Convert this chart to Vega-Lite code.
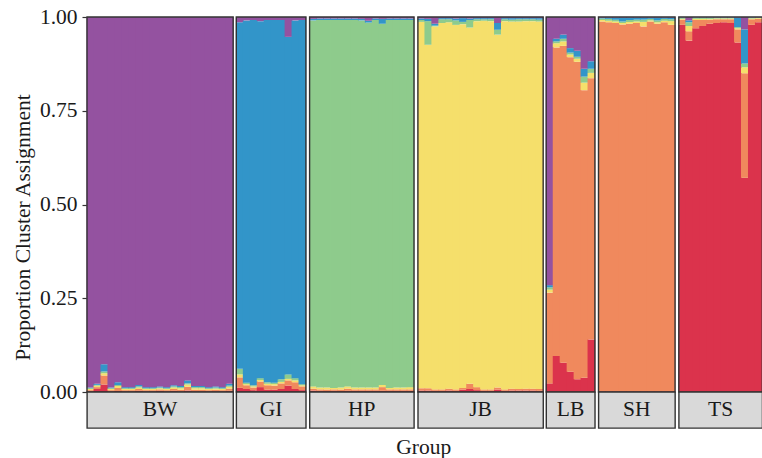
{
  "$schema": "https://vega.github.io/schema/vega-lite/v6.json",
  "background": "white",
  "padding": {"left": 12, "top": 6, "right": 1, "bottom": 0},
  "title": {"text": "Group", "orient": "bottom", "anchor": "middle", "offset": 8, "dx": 36, "fontSize": 21.5, "fontWeight": "normal", "color": "#1a1a1a", "font": "Liberation Serif"},
  "config": {
    "font": "Liberation Serif",
    "view": {"stroke": null},
    "axis": {"labelFont": "Liberation Serif", "titleFont": "Liberation Serif"}
  },
  "resolve": {"scale": {"y": "independent", "x": "independent"}},
  "spacing": 1.3,
  "datasets": {
    "q": [
      {"g":"BW","i":1,"c1":0.002,"c2":0.003,"c3":0.003,"c4":0.002,"c5":0.002,"c6":0.988},
      {"g":"BW","i":2,"c1":0.008,"c2":0.005,"c3":0.004,"c4":0.002,"c5":0.003,"c6":0.978},
      {"g":"BW","i":3,"c1":0.020,"c2":0.024,"c3":0.006,"c4":0.005,"c5":0.019,"c6":0.926},
      {"g":"BW","i":4,"c1":0.002,"c2":0.003,"c3":0.003,"c4":0.002,"c5":0.002,"c6":0.988},
      {"g":"BW","i":5,"c1":0.003,"c2":0.008,"c3":0.005,"c4":0.003,"c5":0.007,"c6":0.974},
      {"g":"BW","i":6,"c1":0.002,"c2":0.003,"c3":0.003,"c4":0.002,"c5":0.003,"c6":0.987},
      {"g":"BW","i":7,"c1":0.002,"c2":0.003,"c3":0.003,"c4":0.002,"c5":0.003,"c6":0.987},
      {"g":"BW","i":8,"c1":0.003,"c2":0.005,"c3":0.004,"c4":0.003,"c5":0.004,"c6":0.981},
      {"g":"BW","i":9,"c1":0.002,"c2":0.003,"c3":0.003,"c4":0.002,"c5":0.003,"c6":0.987},
      {"g":"BW","i":10,"c1":0.002,"c2":0.003,"c3":0.003,"c4":0.002,"c5":0.003,"c6":0.987},
      {"g":"BW","i":11,"c1":0.003,"c2":0.004,"c3":0.003,"c4":0.002,"c5":0.003,"c6":0.985},
      {"g":"BW","i":12,"c1":0.002,"c2":0.003,"c3":0.003,"c4":0.002,"c5":0.003,"c6":0.987},
      {"g":"BW","i":13,"c1":0.003,"c2":0.005,"c3":0.004,"c4":0.003,"c5":0.003,"c6":0.982},
      {"g":"BW","i":14,"c1":0.002,"c2":0.004,"c3":0.004,"c4":0.003,"c5":0.003,"c6":0.984},
      {"g":"BW","i":15,"c1":0.004,"c2":0.010,"c3":0.006,"c4":0.003,"c5":0.008,"c6":0.969},
      {"g":"BW","i":16,"c1":0.002,"c2":0.004,"c3":0.004,"c4":0.003,"c5":0.003,"c6":0.984},
      {"g":"BW","i":17,"c1":0.002,"c2":0.004,"c3":0.004,"c4":0.003,"c5":0.003,"c6":0.984},
      {"g":"BW","i":18,"c1":0.002,"c2":0.003,"c3":0.003,"c4":0.002,"c5":0.003,"c6":0.987},
      {"g":"BW","i":19,"c1":0.002,"c2":0.004,"c3":0.003,"c4":0.003,"c5":0.003,"c6":0.985},
      {"g":"BW","i":20,"c1":0.002,"c2":0.003,"c3":0.003,"c4":0.002,"c5":0.003,"c6":0.987},
      {"g":"BW","i":21,"c1":0.003,"c2":0.006,"c3":0.005,"c4":0.003,"c5":0.005,"c6":0.978},
      {"g":"GI","i":1,"c1":0.011,"c2":0.028,"c3":0.008,"c4":0.015,"c5":0.924,"c6":0.014},
      {"g":"GI","i":2,"c1":0.008,"c2":0.010,"c3":0.003,"c4":0.004,"c5":0.966,"c6":0.009},
      {"g":"GI","i":3,"c1":0.005,"c2":0.007,"c3":0.003,"c4":0.003,"c5":0.974,"c6":0.008},
      {"g":"GI","i":4,"c1":0.013,"c2":0.015,"c3":0.004,"c4":0.005,"c5":0.952,"c6":0.011},
      {"g":"GI","i":5,"c1":0.006,"c2":0.012,"c3":0.004,"c4":0.004,"c5":0.966,"c6":0.008},
      {"g":"GI","i":6,"c1":0.006,"c2":0.011,"c3":0.004,"c4":0.004,"c5":0.967,"c6":0.008},
      {"g":"GI","i":7,"c1":0.008,"c2":0.015,"c3":0.004,"c4":0.007,"c5":0.958,"c6":0.008},
      {"g":"GI","i":8,"c1":0.017,"c2":0.014,"c3":0.004,"c4":0.012,"c5":0.900,"c6":0.053},
      {"g":"GI","i":9,"c1":0.008,"c2":0.018,"c3":0.005,"c4":0.006,"c5":0.954,"c6":0.009},
      {"g":"GI","i":10,"c1":0.005,"c2":0.010,"c3":0.003,"c4":0.003,"c5":0.971,"c6":0.008},
      {"g":"HP","i":1,"c1":0.004,"c2":0.005,"c3":0.006,"c4":0.976,"c5":0.004,"c6":0.005},
      {"g":"HP","i":2,"c1":0.003,"c2":0.004,"c3":0.005,"c4":0.980,"c5":0.004,"c6":0.004},
      {"g":"HP","i":3,"c1":0.003,"c2":0.004,"c3":0.005,"c4":0.980,"c5":0.004,"c6":0.004},
      {"g":"HP","i":4,"c1":0.003,"c2":0.004,"c3":0.004,"c4":0.981,"c5":0.004,"c6":0.004},
      {"g":"HP","i":5,"c1":0.003,"c2":0.004,"c3":0.005,"c4":0.980,"c5":0.004,"c6":0.004},
      {"g":"HP","i":6,"c1":0.003,"c2":0.006,"c3":0.006,"c4":0.977,"c5":0.004,"c6":0.004},
      {"g":"HP","i":7,"c1":0.003,"c2":0.004,"c3":0.005,"c4":0.980,"c5":0.004,"c6":0.004},
      {"g":"HP","i":8,"c1":0.003,"c2":0.004,"c3":0.005,"c4":0.979,"c5":0.004,"c6":0.005},
      {"g":"HP","i":9,"c1":0.003,"c2":0.004,"c3":0.005,"c4":0.973,"c5":0.005,"c6":0.010},
      {"g":"HP","i":10,"c1":0.003,"c2":0.004,"c3":0.005,"c4":0.980,"c5":0.004,"c6":0.004},
      {"g":"HP","i":11,"c1":0.003,"c2":0.010,"c3":0.006,"c4":0.963,"c5":0.013,"c6":0.005},
      {"g":"HP","i":12,"c1":0.003,"c2":0.004,"c3":0.004,"c4":0.981,"c5":0.004,"c6":0.004},
      {"g":"HP","i":13,"c1":0.003,"c2":0.004,"c3":0.005,"c4":0.980,"c5":0.004,"c6":0.004},
      {"g":"HP","i":14,"c1":0.003,"c2":0.004,"c3":0.005,"c4":0.980,"c5":0.004,"c6":0.004},
      {"g":"HP","i":15,"c1":0.003,"c2":0.004,"c3":0.006,"c4":0.979,"c5":0.004,"c6":0.004},
      {"g":"JB","i":1,"c1":0.004,"c2":0.006,"c3":0.977,"c4":0.005,"c5":0.004,"c6":0.004},
      {"g":"JB","i":2,"c1":0.004,"c2":0.006,"c3":0.916,"c4":0.063,"c5":0.006,"c6":0.005},
      {"g":"JB","i":3,"c1":0.003,"c2":0.004,"c3":0.968,"c4":0.002,"c5":0.005,"c6":0.018},
      {"g":"JB","i":4,"c1":0.003,"c2":0.004,"c3":0.977,"c4":0.010,"c5":0.003,"c6":0.003},
      {"g":"JB","i":5,"c1":0.004,"c2":0.005,"c3":0.977,"c4":0.008,"c5":0.003,"c6":0.003},
      {"g":"JB","i":6,"c1":0.003,"c2":0.004,"c3":0.972,"c4":0.012,"c5":0.005,"c6":0.004},
      {"g":"JB","i":7,"c1":0.006,"c2":0.005,"c3":0.970,"c4":0.006,"c5":0.010,"c6":0.003},
      {"g":"JB","i":8,"c1":0.008,"c2":0.014,"c3":0.950,"c4":0.020,"c5":0.004,"c6":0.004},
      {"g":"JB","i":9,"c1":0.005,"c2":0.008,"c3":0.976,"c4":0.005,"c5":0.003,"c6":0.003},
      {"g":"JB","i":10,"c1":0.003,"c2":0.004,"c3":0.983,"c4":0.004,"c5":0.003,"c6":0.003},
      {"g":"JB","i":11,"c1":0.003,"c2":0.004,"c3":0.982,"c4":0.005,"c5":0.003,"c6":0.003},
      {"g":"JB","i":12,"c1":0.006,"c2":0.006,"c3":0.941,"c4":0.013,"c5":0.018,"c6":0.016},
      {"g":"JB","i":13,"c1":0.003,"c2":0.004,"c3":0.982,"c4":0.005,"c5":0.003,"c6":0.003},
      {"g":"JB","i":14,"c1":0.004,"c2":0.005,"c3":0.979,"c4":0.005,"c5":0.004,"c6":0.003},
      {"g":"JB","i":15,"c1":0.004,"c2":0.004,"c3":0.980,"c4":0.006,"c5":0.003,"c6":0.003},
      {"g":"JB","i":16,"c1":0.004,"c2":0.005,"c3":0.980,"c4":0.005,"c5":0.003,"c6":0.003},
      {"g":"JB","i":17,"c1":0.004,"c2":0.005,"c3":0.980,"c4":0.005,"c5":0.003,"c6":0.003},
      {"g":"JB","i":18,"c1":0.003,"c2":0.005,"c3":0.980,"c4":0.005,"c5":0.004,"c6":0.003},
      {"g":"LB","i":1,"c1":0.023,"c2":0.242,"c3":0.008,"c4":0.006,"c5":0.006,"c6":0.715},
      {"g":"LB","i":2,"c1":0.096,"c2":0.823,"c3":0.011,"c4":0.005,"c5":0.007,"c6":0.058},
      {"g":"LB","i":3,"c1":0.078,"c2":0.845,"c3":0.012,"c4":0.007,"c5":0.011,"c6":0.047},
      {"g":"LB","i":4,"c1":0.054,"c2":0.839,"c3":0.007,"c4":0.005,"c5":0.012,"c6":0.083},
      {"g":"LB","i":5,"c1":0.034,"c2":0.847,"c3":0.008,"c4":0.005,"c5":0.016,"c6":0.090},
      {"g":"LB","i":6,"c1":0.038,"c2":0.767,"c3":0.020,"c4":0.016,"c5":0.021,"c6":0.138},
      {"g":"LB","i":7,"c1":0.140,"c2":0.697,"c3":0.014,"c4":0.011,"c5":0.020,"c6":0.118},
      {"g":"SH","i":1,"c1":0.002,"c2":0.986,"c3":0.004,"c4":0.004,"c5":0.002,"c6":0.002},
      {"g":"SH","i":2,"c1":0.002,"c2":0.984,"c3":0.004,"c4":0.005,"c5":0.003,"c6":0.002},
      {"g":"SH","i":3,"c1":0.002,"c2":0.982,"c3":0.004,"c4":0.005,"c5":0.005,"c6":0.002},
      {"g":"SH","i":4,"c1":0.002,"c2":0.978,"c3":0.004,"c4":0.004,"c5":0.010,"c6":0.002},
      {"g":"SH","i":5,"c1":0.002,"c2":0.980,"c3":0.005,"c4":0.005,"c5":0.006,"c6":0.002},
      {"g":"SH","i":6,"c1":0.002,"c2":0.982,"c3":0.004,"c4":0.005,"c5":0.005,"c6":0.002},
      {"g":"SH","i":7,"c1":0.002,"c2":0.973,"c3":0.012,"c4":0.006,"c5":0.005,"c6":0.002},
      {"g":"SH","i":8,"c1":0.002,"c2":0.986,"c3":0.003,"c4":0.004,"c5":0.003,"c6":0.002},
      {"g":"SH","i":9,"c1":0.002,"c2":0.980,"c3":0.004,"c4":0.005,"c5":0.007,"c6":0.002},
      {"g":"SH","i":10,"c1":0.002,"c2":0.984,"c3":0.004,"c4":0.005,"c5":0.003,"c6":0.002},
      {"g":"SH","i":11,"c1":0.002,"c2":0.977,"c3":0.010,"c4":0.005,"c5":0.004,"c6":0.002},
      {"g":"TS","i":1,"c1":0.979,"c2":0.014,"c3":0.002,"c4":0.003,"c5":0.001,"c6":0.001},
      {"g":"TS","i":2,"c1":0.937,"c2":0.025,"c3":0.014,"c4":0.010,"c5":0.005,"c6":0.009},
      {"g":"TS","i":3,"c1":0.970,"c2":0.022,"c3":0.003,"c4":0.003,"c5":0.001,"c6":0.001},
      {"g":"TS","i":4,"c1":0.976,"c2":0.016,"c3":0.003,"c4":0.003,"c5":0.001,"c6":0.001},
      {"g":"TS","i":5,"c1":0.982,"c2":0.011,"c3":0.002,"c4":0.003,"c5":0.001,"c6":0.001},
      {"g":"TS","i":6,"c1":0.984,"c2":0.010,"c3":0.002,"c4":0.002,"c5":0.001,"c6":0.001},
      {"g":"TS","i":7,"c1":0.986,"c2":0.008,"c3":0.002,"c4":0.002,"c5":0.001,"c6":0.001},
      {"g":"TS","i":8,"c1":0.984,"c2":0.010,"c3":0.002,"c4":0.002,"c5":0.001,"c6":0.001},
      {"g":"TS","i":9,"c1":0.932,"c2":0.035,"c3":0.003,"c4":0.003,"c5":0.025,"c6":0.002},
      {"g":"TS","i":10,"c1":0.571,"c2":0.279,"c3":0.016,"c4":0.010,"c5":0.091,"c6":0.033},
      {"g":"TS","i":11,"c1":0.979,"c2":0.015,"c3":0.002,"c4":0.002,"c5":0.001,"c6":0.001},
      {"g":"TS","i":12,"c1":0.986,"c2":0.009,"c3":0.002,"c4":0.001,"c5":0.001,"c6":0.001}
    ]
  },
  "hconcat": [
    {"spacing": 0, "bounds": "flush", "vconcat": [
      {"width": 146.16, "height": 375, "layer": [
        {"data": {"name": "q"}, "transform": [{"filter": "datum.g === 'BW'"}, {"fold": ["c1","c2","c3","c4","c5","c6"], "as": ["k","v"]}],
         "mark": {"type": "bar", "width": {"band": 1.12}},
         "encoding": {
           "x": {"field": "i", "type": "ordinal", "scale": {"paddingInner": 0, "paddingOuter": 0}, "axis": null},
           "y": {"field": "v", "type": "quantitative", "stack": true, "scale": {"domain": [0, 1], "nice": false},
                 "axis": {"title": "Proportion Cluster Assignment", "values": [0, 0.25, 0.5, 0.75, 1], "format": ".2f", "domain": false, "grid": false, "ticks": true, "tickColor": "#333333", "tickSize": 5, "tickWidth": 1.2, "labelFontSize": 21.5, "labelColor": "#1a1a1a", "labelPadding": 5, "titleFontSize": 21.5, "titleFontWeight": "normal", "titleColor": "#1a1a1a", "titlePadding": 5, "titleY": 210}},
           "color": {"field": "k", "type": "nominal", "scale": {"domain": ["c1","c2","c3","c4","c5","c6"], "range": ["#DB334C","#F0895D","#F5DF6B","#8ECB8C","#3295C9","#9452A0"]}, "legend": null},
           "order": {"field": "k", "type": "nominal"}
         }},
        {"data": {"values": [{}]}, "mark": {"type": "rect", "filled": false, "stroke": "#333333", "strokeWidth": 1.4}, "encoding": {}}
      ]},
      {"width": 146.16, "height": 36, "view": {"fill": "#D9D9D9", "stroke": "#333333", "strokeWidth": 1.4},
       "data": {"values": [{"g": "BW"}]}, "mark": {"type": "text", "fontSize": 21.5, "color": "#1a1a1a"}, "encoding": {"text": {"field": "g"}}}
    ]},
    {"spacing": 0, "bounds": "flush", "vconcat": [
      {"width": 69.6, "height": 375, "layer": [
        {"data": {"name": "q"}, "transform": [{"filter": "datum.g === 'GI'"}, {"fold": ["c1","c2","c3","c4","c5","c6"], "as": ["k","v"]}],
         "mark": {"type": "bar", "width": {"band": 1.12}},
         "encoding": {
           "x": {"field": "i", "type": "ordinal", "scale": {"paddingInner": 0, "paddingOuter": 0}, "axis": null},
           "y": {"field": "v", "type": "quantitative", "stack": true, "scale": {"domain": [0, 1], "nice": false}, "axis": null},
           "color": {"field": "k", "type": "nominal", "scale": {"domain": ["c1","c2","c3","c4","c5","c6"], "range": ["#DB334C","#F0895D","#F5DF6B","#8ECB8C","#3295C9","#9452A0"]}, "legend": null},
           "order": {"field": "k", "type": "nominal"}
         }},
        {"data": {"values": [{}]}, "mark": {"type": "rect", "filled": false, "stroke": "#333333", "strokeWidth": 1.4}, "encoding": {}}
      ]},
      {"width": 69.6, "height": 36, "view": {"fill": "#D9D9D9", "stroke": "#333333", "strokeWidth": 1.4},
       "data": {"values": [{"g": "GI"}]}, "mark": {"type": "text", "fontSize": 21.5, "color": "#1a1a1a"}, "encoding": {"text": {"field": "g"}}}
    ]},
    {"spacing": 0, "bounds": "flush", "vconcat": [
      {"width": 104.4, "height": 375, "layer": [
        {"data": {"name": "q"}, "transform": [{"filter": "datum.g === 'HP'"}, {"fold": ["c1","c2","c3","c4","c5","c6"], "as": ["k","v"]}],
         "mark": {"type": "bar", "width": {"band": 1.12}},
         "encoding": {
           "x": {"field": "i", "type": "ordinal", "scale": {"paddingInner": 0, "paddingOuter": 0}, "axis": null},
           "y": {"field": "v", "type": "quantitative", "stack": true, "scale": {"domain": [0, 1], "nice": false}, "axis": null},
           "color": {"field": "k", "type": "nominal", "scale": {"domain": ["c1","c2","c3","c4","c5","c6"], "range": ["#DB334C","#F0895D","#F5DF6B","#8ECB8C","#3295C9","#9452A0"]}, "legend": null},
           "order": {"field": "k", "type": "nominal"}
         }},
        {"data": {"values": [{}]}, "mark": {"type": "rect", "filled": false, "stroke": "#333333", "strokeWidth": 1.4}, "encoding": {}}
      ]},
      {"width": 104.4, "height": 36, "view": {"fill": "#D9D9D9", "stroke": "#333333", "strokeWidth": 1.4},
       "data": {"values": [{"g": "HP"}]}, "mark": {"type": "text", "fontSize": 21.5, "color": "#1a1a1a"}, "encoding": {"text": {"field": "g"}}}
    ]},
    {"spacing": 0, "bounds": "flush", "vconcat": [
      {"width": 125.28, "height": 375, "layer": [
        {"data": {"name": "q"}, "transform": [{"filter": "datum.g === 'JB'"}, {"fold": ["c1","c2","c3","c4","c5","c6"], "as": ["k","v"]}],
         "mark": {"type": "bar", "width": {"band": 1.12}},
         "encoding": {
           "x": {"field": "i", "type": "ordinal", "scale": {"paddingInner": 0, "paddingOuter": 0}, "axis": null},
           "y": {"field": "v", "type": "quantitative", "stack": true, "scale": {"domain": [0, 1], "nice": false}, "axis": null},
           "color": {"field": "k", "type": "nominal", "scale": {"domain": ["c1","c2","c3","c4","c5","c6"], "range": ["#DB334C","#F0895D","#F5DF6B","#8ECB8C","#3295C9","#9452A0"]}, "legend": null},
           "order": {"field": "k", "type": "nominal"}
         }},
        {"data": {"values": [{}]}, "mark": {"type": "rect", "filled": false, "stroke": "#333333", "strokeWidth": 1.4}, "encoding": {}}
      ]},
      {"width": 125.28, "height": 36, "view": {"fill": "#D9D9D9", "stroke": "#333333", "strokeWidth": 1.4},
       "data": {"values": [{"g": "JB"}]}, "mark": {"type": "text", "fontSize": 21.5, "color": "#1a1a1a"}, "encoding": {"text": {"field": "g"}}}
    ]},
    {"spacing": 0, "bounds": "flush", "vconcat": [
      {"width": 48.72, "height": 375, "layer": [
        {"data": {"name": "q"}, "transform": [{"filter": "datum.g === 'LB'"}, {"fold": ["c1","c2","c3","c4","c5","c6"], "as": ["k","v"]}],
         "mark": {"type": "bar", "width": {"band": 1.12}},
         "encoding": {
           "x": {"field": "i", "type": "ordinal", "scale": {"paddingInner": 0, "paddingOuter": 0}, "axis": null},
           "y": {"field": "v", "type": "quantitative", "stack": true, "scale": {"domain": [0, 1], "nice": false}, "axis": null},
           "color": {"field": "k", "type": "nominal", "scale": {"domain": ["c1","c2","c3","c4","c5","c6"], "range": ["#DB334C","#F0895D","#F5DF6B","#8ECB8C","#3295C9","#9452A0"]}, "legend": null},
           "order": {"field": "k", "type": "nominal"}
         }},
        {"data": {"values": [{}]}, "mark": {"type": "rect", "filled": false, "stroke": "#333333", "strokeWidth": 1.4}, "encoding": {}}
      ]},
      {"width": 48.72, "height": 36, "view": {"fill": "#D9D9D9", "stroke": "#333333", "strokeWidth": 1.4},
       "data": {"values": [{"g": "LB"}]}, "mark": {"type": "text", "fontSize": 21.5, "color": "#1a1a1a"}, "encoding": {"text": {"field": "g"}}}
    ]},
    {"spacing": 0, "bounds": "flush", "vconcat": [
      {"width": 76.56, "height": 375, "layer": [
        {"data": {"name": "q"}, "transform": [{"filter": "datum.g === 'SH'"}, {"fold": ["c1","c2","c3","c4","c5","c6"], "as": ["k","v"]}],
         "mark": {"type": "bar", "width": {"band": 1.12}},
         "encoding": {
           "x": {"field": "i", "type": "ordinal", "scale": {"paddingInner": 0, "paddingOuter": 0}, "axis": null},
           "y": {"field": "v", "type": "quantitative", "stack": true, "scale": {"domain": [0, 1], "nice": false}, "axis": null},
           "color": {"field": "k", "type": "nominal", "scale": {"domain": ["c1","c2","c3","c4","c5","c6"], "range": ["#DB334C","#F0895D","#F5DF6B","#8ECB8C","#3295C9","#9452A0"]}, "legend": null},
           "order": {"field": "k", "type": "nominal"}
         }},
        {"data": {"values": [{}]}, "mark": {"type": "rect", "filled": false, "stroke": "#333333", "strokeWidth": 1.4}, "encoding": {}}
      ]},
      {"width": 76.56, "height": 36, "view": {"fill": "#D9D9D9", "stroke": "#333333", "strokeWidth": 1.4},
       "data": {"values": [{"g": "SH"}]}, "mark": {"type": "text", "fontSize": 21.5, "color": "#1a1a1a"}, "encoding": {"text": {"field": "g"}}}
    ]},
    {"spacing": 0, "bounds": "flush", "vconcat": [
      {"width": 83.52, "height": 375, "layer": [
        {"data": {"name": "q"}, "transform": [{"filter": "datum.g === 'TS'"}, {"fold": ["c1","c2","c3","c4","c5","c6"], "as": ["k","v"]}],
         "mark": {"type": "bar", "width": {"band": 1.12}},
         "encoding": {
           "x": {"field": "i", "type": "ordinal", "scale": {"paddingInner": 0, "paddingOuter": 0}, "axis": null},
           "y": {"field": "v", "type": "quantitative", "stack": true, "scale": {"domain": [0, 1], "nice": false}, "axis": null},
           "color": {"field": "k", "type": "nominal", "scale": {"domain": ["c1","c2","c3","c4","c5","c6"], "range": ["#DB334C","#F0895D","#F5DF6B","#8ECB8C","#3295C9","#9452A0"]}, "legend": null},
           "order": {"field": "k", "type": "nominal"}
         }},
        {"data": {"values": [{}]}, "mark": {"type": "rect", "filled": false, "stroke": "#333333", "strokeWidth": 1.4}, "encoding": {}}
      ]},
      {"width": 83.52, "height": 36, "view": {"fill": "#D9D9D9", "stroke": "#333333", "strokeWidth": 1.4},
       "data": {"values": [{"g": "TS"}]}, "mark": {"type": "text", "fontSize": 21.5, "color": "#1a1a1a"}, "encoding": {"text": {"field": "g"}}}
    ]}
  ]
}
